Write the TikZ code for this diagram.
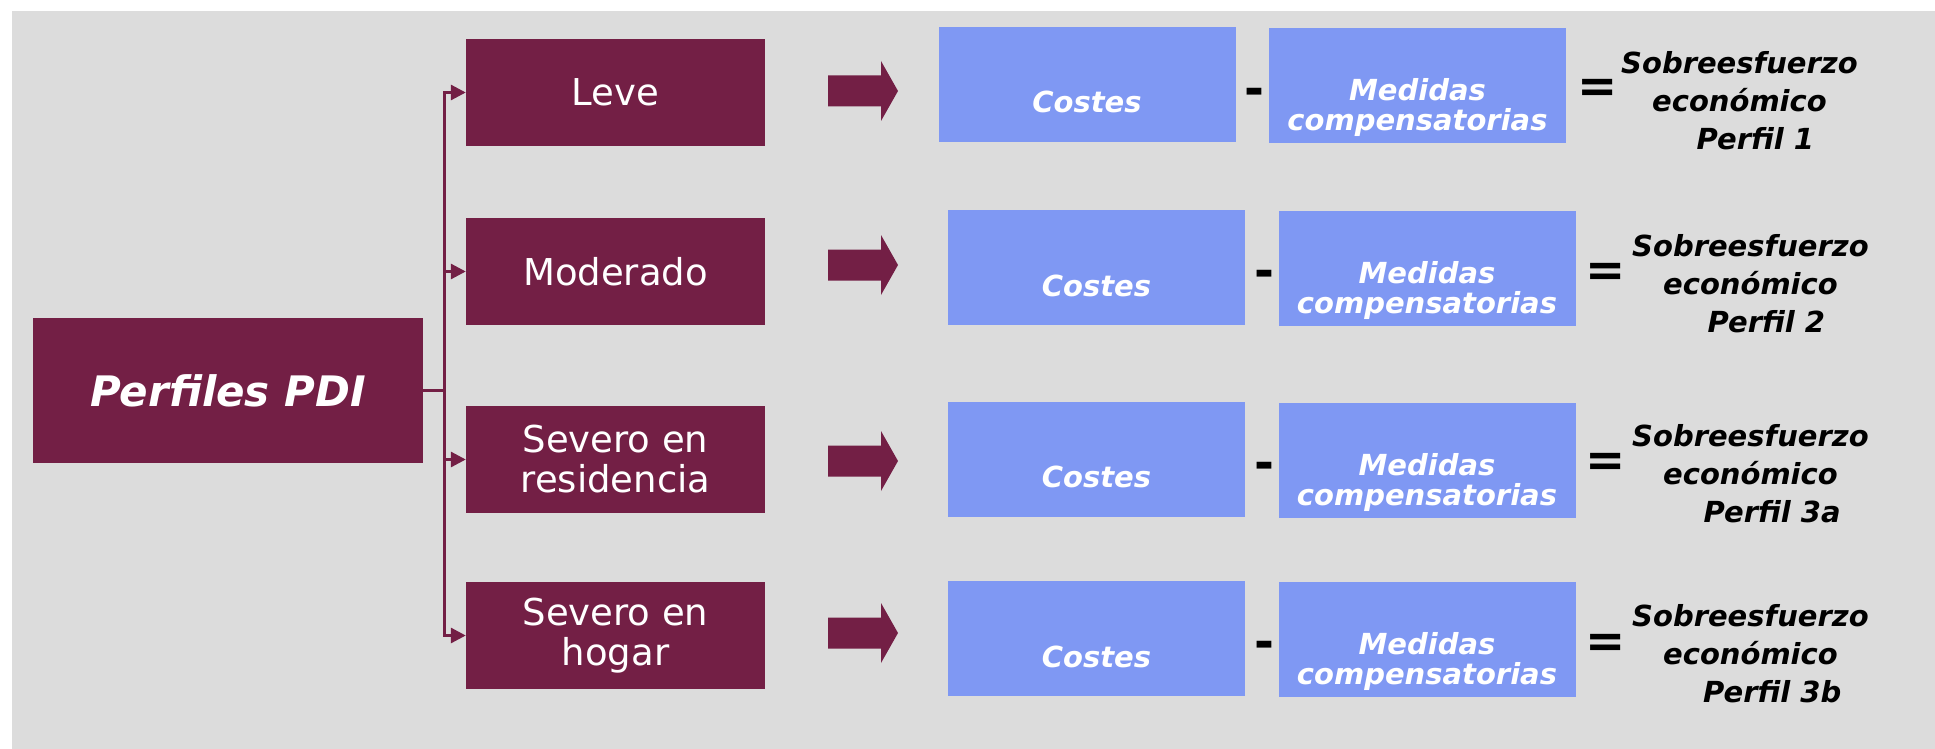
\documentclass[tikz,border=0pt]{standalone}
\usepackage{fontspec}
\setmainfont{DejaVu Sans}[BoldFont={DejaVu Sans Bold},ItalicFont={DejaVu Sans Oblique},BoldItalicFont={DejaVu Sans Bold Oblique}]
\usetikzlibrary{arrows.meta}
\definecolor{perfilred}{HTML}{731F45}
\definecolor{costblue}{HTML}{7F98F3}
\definecolor{backgray}{HTML}{DCDCDC}
\tikzset{
  perfil/.style={rectangle, fill=perfilred, text=white, minimum width=299pt,
    minimum height=107pt, align=center, font=\fontsize{37}{40}\selectfont},
  coste/.style={rectangle, fill=costblue, text=white, minimum width=297pt,
    minimum height=115pt, inner sep=0pt, text height=57pt, text depth=0pt,
    font=\fontsize{29}{30}\selectfont\bfseries\itshape},
  medida/.style={coste, align=center, text height=90pt},
  signo/.style={inner sep=0pt, anchor=base, font=\fontsize{48}{48}\selectfont\bfseries},
  resultado/.style={inner sep=0pt, anchor=north west, align=center,
    font=\fontsize{29}{38}\selectfont\bfseries\itshape}
}
\begin{document}
\begin{tikzpicture}[x=1pt, y=-1pt]
      \useasboundingbox (0,0) rectangle (1935,749);
      \fill[backgray] (12,11) rectangle (1935,749);
      % perfiles
      \node[perfil, minimum width=390pt, minimum height=145pt,
        font=\fontsize{42}{48}\selectfont\bfseries\itshape] (pdi) at (228,390.5) {Perfiles PDI};
      \node[perfil] (leve) at (615.5,92.5) {Leve};
      \node[perfil] (moderado) at (615.5,271.5) {Moderado};
      \node[perfil] (residencia) at (615.5,459.5) {Severo en\\residencia};
      \node[perfil] (hogar) at (615.5,635.5) {Severo en\\hogar};
      \coordinate (bus) at (444,390.5);
      \begin{scope}[perfilred, line width=3pt, -{Triangle[length=15pt,width=15pt]}]
        \draw (pdi.east) -- (bus) |- (leve.west);
        \draw (pdi.east) -- (bus) |- (moderado.west);
        \draw (pdi.east) -- (bus) |- (residencia.west);
        \draw (pdi.east) -- (bus) |- (hogar.west);
      \end{scope}
      % flechas
      \fill[perfilred] (828,75.5) -- ++(53,0) -- ++(0,-14.5) -- ++(17,30) -- ++(-17,30) -- ++(0,-14.5) -- ++(-53,0) -- cycle;
      \fill[perfilred] (828,249.5) -- ++(53,0) -- ++(0,-14.5) -- ++(17,30) -- ++(-17,30) -- ++(0,-14.5) -- ++(-53,0) -- cycle;
      \fill[perfilred] (828,445.5) -- ++(53,0) -- ++(0,-14.5) -- ++(17,30) -- ++(-17,30) -- ++(0,-14.5) -- ++(-53,0) -- cycle;
      \fill[perfilred] (828,617.5) -- ++(53,0) -- ++(0,-14.5) -- ++(17,30) -- ++(-17,30) -- ++(0,-14.5) -- ++(-53,0) -- cycle;
      % perfil 1
      \node[coste] (coste1) at (1087,84.5) {Costes};
      \node[medida] (medida1) at (1417.5,85.5) {Medidas\\compensatorias};
      \node[signo] (menos1) at (1254,105.5) {-};
      \node[signo] (igual1) at (1598,103) {=};
      \node[resultado] (res1) at (1621,51) {Sobreesfuerzo\\económico\\\hspace*{1.1em}Perfil 1};
      % perfil 2
      \node[coste] (coste2) at (1096.5,267.5) {Costes};
      \node[medida] (medida2) at (1427,268.5) {Medidas\\compensatorias};
      \node[signo] (menos2) at (1264,287.5) {-};
      \node[signo] (igual2) at (1606,286) {=};
      \node[resultado] (res2) at (1632,234) {Sobreesfuerzo\\económico\\\hspace*{1.1em}Perfil 2};
      % perfil 3a
      \node[coste] (coste3) at (1096.5,459) {Costes};
      \node[medida] (medida3) at (1427,460) {Medidas\\compensatorias};
      \node[signo] (menos3) at (1264,479.5) {-};
      \node[signo] (igual3) at (1606,476.5) {=};
      \node[resultado] (res3) at (1632,424) {Sobreesfuerzo\\económico\\\hspace*{1.5em}Perfil 3a};
      % perfil 3b
      \node[coste] (coste4) at (1096.5,638.5) {Costes};
      \node[medida] (medida4) at (1427,639.5) {Medidas\\compensatorias};
      \node[signo] (menos4) at (1264,658.5) {-};
      \node[signo] (igual4) at (1606,657) {=};
      \node[resultado] (res4) at (1632,604) {Sobreesfuerzo\\económico\\\hspace*{1.5em}Perfil 3b};
    \end{tikzpicture}
\end{document}
